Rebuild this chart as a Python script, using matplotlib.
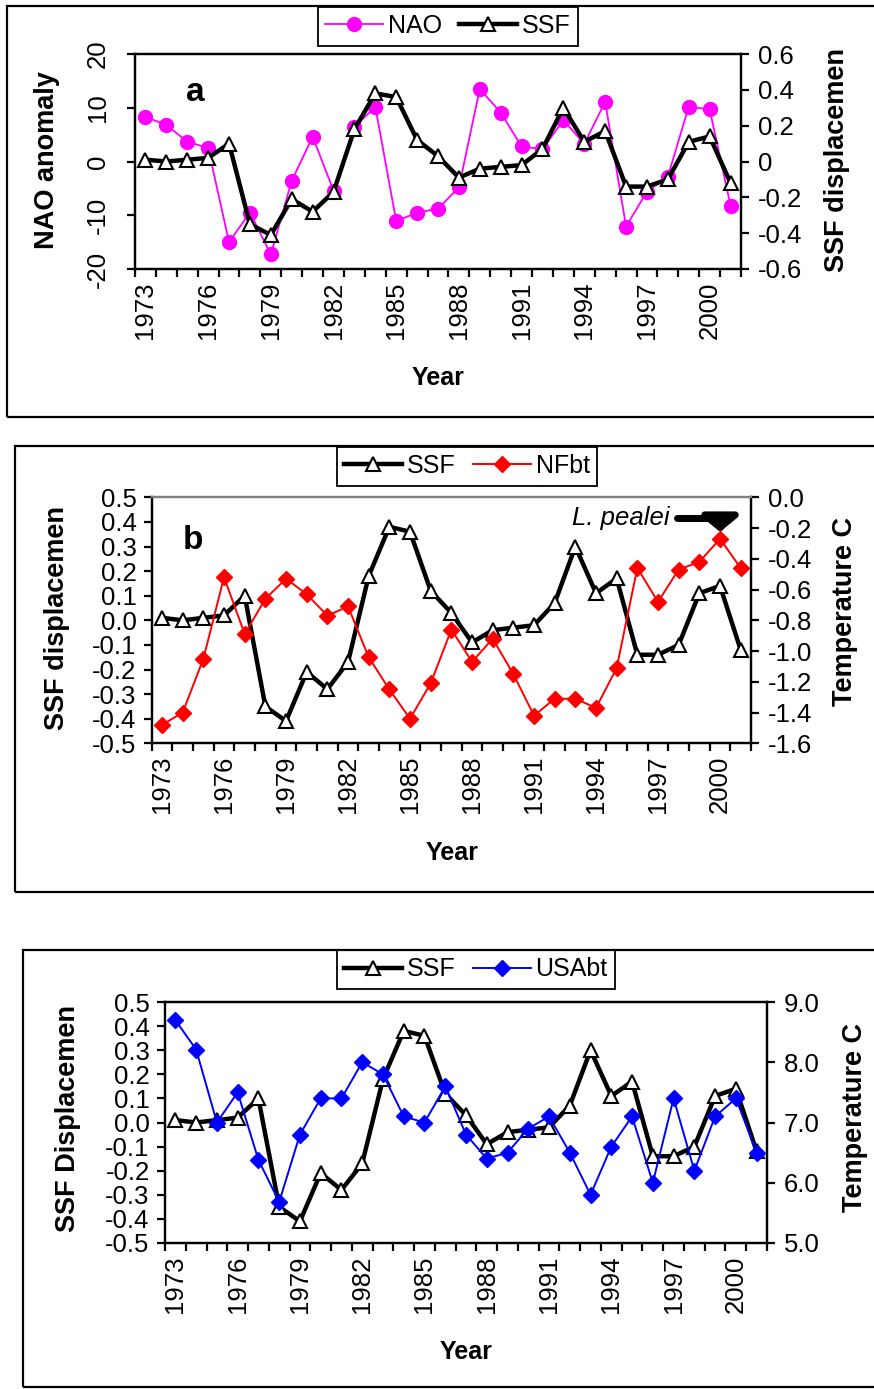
import numpy as np
import matplotlib.pyplot as plt
from matplotlib.patches import Rectangle

plt.rcParams['font.family'] = ['Liberation Sans', 'DejaVu Sans']
plt.rcParams['axes.unicode_minus'] = False

# data
years = np.arange(1973, 2002)
nao = [8.3, 6.8, 3.7, 2.5, -15.0, -9.5, -17.3, -3.6, 4.6, -5.4, 6.4, 10.2, -11.1, -9.5,
       -8.8, -4.8, 13.5, 9.1, 2.8, 2.3, 7.7, 3.3, 11.1, -12.1, -5.6, -2.8, 10.2, 9.7, -8.2]
ssf = [0.01, 0.00, 0.01, 0.02, 0.10, -0.35, -0.41, -0.21, -0.28, -0.17, 0.18, 0.38, 0.36,
       0.12, 0.03, -0.09, -0.04, -0.03, -0.02, 0.07, 0.30, 0.11, 0.17, -0.14, -0.14, -0.10,
       0.11, 0.14, -0.12]
nfbt = [-1.48, -1.40, -1.05, -0.52, -0.89, -0.66, -0.53, -0.63, -0.77, -0.71, -1.04, -1.25,
        -1.44, -1.21, -0.86, -1.07, -0.92, -1.15, -1.42, -1.31, -1.31, -1.37, -1.11, -0.46,
        -0.68, -0.47, -0.42, -0.27, -0.46]
usabt = [8.70, 8.21, 7.0, 7.5, 6.38, 5.68, 6.8, 7.4, 7.4, 8.0, 7.8, 7.1, 7.0, 7.6, 6.8,
         6.4, 6.5, 6.9, 7.1, 6.5, 5.8, 6.6, 7.1, 6.0, 7.4, 6.2, 7.1, 7.4, 6.5]

label_years = years[::3]
nao_ticks = [-20, -10, 0, 10, 20]
ssf_ticks_a = [-0.6, -0.4, -0.2, 0, 0.2, 0.4, 0.6]
ssf_labels_a = ['-0.6', '-0.4', '-0.2', '0', '0.2', '0.4', '0.6']
ssf_ticks = [-0.5, -0.4, -0.3, -0.2, -0.1, 0.0, 0.1, 0.2, 0.3, 0.4, 0.5]
nfbt_ticks = [-1.6, -1.4, -1.2, -1.0, -0.8, -0.6, -0.4, -0.2, 0.0]
usabt_ticks = [5.0, 6.0, 7.0, 8.0, 9.0]

W, H = 874, 1389
fig = plt.figure(figsize=(W / 100, H / 100), dpi=100)
FS = 18.5     # tick labels
FL = 19.5     # rotated axis titles
FLEG = 18


def rect(x0, y0, x1, y1):
    return [x0 / W, 1 - y1 / H, (x1 - x0) / W, (y1 - y0) / H]


def frame(x0, y0, x1, y1):
    fig.add_artist(Rectangle((x0 / W, 1 - y1 / H), (x1 - x0) / W, (y1 - y0) / H,
                             transform=fig.transFigure, fill=False, lw=1.6, ec='black'))


def ftext(x, y, s, size=FL, **kw):
    fig.text(x / W, 1 - y / H, s, fontsize=size, ha='center', va='center',
             fontweight='bold', **kw)


def fmt(vals):
    return ['%.1f' % (v + 0.0) if abs(v) > 1e-9 else '0.0' for v in vals]


def style(ax, ax2):
    for a in (ax, ax2):
        for sp in a.spines.values():
            sp.set_linewidth(1.6)
    ax.set_xlim(1972.5, 2001.5)
    ax.set_xticks(label_years)
    ax.set_xticklabels([str(y) for y in label_years], rotation=90, fontsize=FS)
    ax.set_xticks(np.arange(1972.5, 2002, 1), minor=True)
    ax.tick_params(axis='x', which='major', length=0, pad=9)
    ax.tick_params(axis='x', which='minor', length=6, width=1.6, direction='out')
    ax.tick_params(axis='y', length=6, width=1.6, direction='out', labelsize=FS, pad=5)
    ax2.tick_params(axis='y', length=6, width=1.6, direction='out', labelsize=FS, pad=6)


def legend(ax, handles, cx, top):
    leg = ax.legend(handles=handles, loc='upper center', bbox_to_anchor=(cx / W, 1 - top / H),
                    bbox_transform=fig.transFigure, ncol=2, frameon=True, fancybox=False,
                    edgecolor='black', framealpha=1, fontsize=FLEG, handlelength=2.3,
                    handletextpad=0.2, columnspacing=0.7, borderpad=0.3, numpoints=1,
                    borderaxespad=0)
    leg.get_frame().set_linewidth(1.3)


ssf_style = dict(color='black', lw=3.2, marker='^', ms=10, mfc='white', mec='black', mew=1.5)

# ---------------- panel a ----------------
frame(7, 6, 900, 417)
ax = fig.add_axes(rect(135, 54, 741, 269))
ax2 = ax.twinx()
l1, = ax.plot(years, nao, color='#FF00FF', lw=1.3, marker='o', ms=10, label='NAO')
l2, = ax2.plot(years, ssf, label='SSF', **ssf_style)
ax.set_ylim(-20, 20)
ax.set_yticks(nao_ticks)
ax2.set_ylim(-0.6, 0.6)
ax2.set_yticks(ssf_ticks_a)
ax2.set_yticklabels(ssf_labels_a)
style(ax, ax2)
for t in ax.get_yticklabels():
    t.set_rotation(90)
    t.set_va('center')
ax.tick_params(axis='y', pad=12)
ax.text(0.1, 0.82, 'a', transform=ax.transAxes, fontsize=24, fontweight='bold',
        ha='center', va='center')
legend(ax2, [l1, l2], 448, 6.7)
ftext(47, 160, 'NAO anomaly', rotation=90)
ftext(837, 160, 'SSF displacemen', rotation=90)
ftext(438, 378, 'Year', size=18)

# ---------------- panel b ----------------
frame(15, 446, 900, 892)
bx = fig.add_axes(rect(151.7, 497.3, 751, 743.3))
bx2 = bx.twinx()
m1, = bx.plot(years, ssf, label='SSF', **ssf_style)
m2, = bx2.plot(years, nfbt, color='#FF0000', lw=1.4, marker='D', ms=8, label='NFbt')
bx.set_ylim(-0.5, 0.5)
bx.set_yticks(ssf_ticks)
bx.set_yticklabels(fmt(ssf_ticks))
bx2.set_ylim(-1.6, 0.0)
bx2.set_yticks(nfbt_ticks)
bx2.set_yticklabels(fmt(nfbt_ticks))
style(bx, bx2)
bx.spines['top'].set_color('#808080')
bx2.spines['top'].set_color('#808080')
bx.text(0.068, 0.826, 'b', transform=bx.transAxes, fontsize=24, fontweight='bold',
        ha='center', va='center')
bx2.annotate('L. pealei', xy=(2000, nfbt[years.tolist().index(2000)]),
             xytext=(0.783, 0.915), textcoords='axes fraction', fontsize=FS, style='italic',
             ha='center', va='center',
             arrowprops=dict(arrowstyle='-|>,head_length=0.45,head_width=0.55', lw=5,
                             color='black', mutation_scale=20, shrinkA=3, shrinkB=5,
                             connectionstyle='angle,angleA=0,angleB=90,rad=0'))
legend(bx2, [m1, m2], 467, 446.7)
ftext(57, 618, 'SSF displacemen', rotation=90)
ftext(845, 612, 'Temperature C', rotation=90)
ftext(452, 853, 'Year', size=18)

# ---------------- panel c ----------------
frame(23, 950, 900, 1387)
cx = fig.add_axes(rect(165, 1002, 767, 1243))
cx2 = cx.twinx()
n1, = cx.plot(years, ssf, label='SSF', **ssf_style)
n2, = cx2.plot(years, usabt, color='#0000FF', lw=1.4, marker='D', ms=8, label='USAbt')
cx.set_ylim(-0.5, 0.5)
cx.set_yticks(ssf_ticks)
cx.set_yticklabels(fmt(ssf_ticks))
cx2.set_ylim(5.0, 9.0)
cx2.set_yticks(usabt_ticks)
cx2.set_yticklabels(fmt(usabt_ticks))
style(cx, cx2)
legend(cx2, [n1, n2], 476, 950)
ftext(68, 1119, 'SSF Displacemen', rotation=90)
ftext(855, 1118, 'Temperature C', rotation=90)
ftext(466, 1352, 'Year', size=18)

fig.savefig('out.png', dpi=100)
